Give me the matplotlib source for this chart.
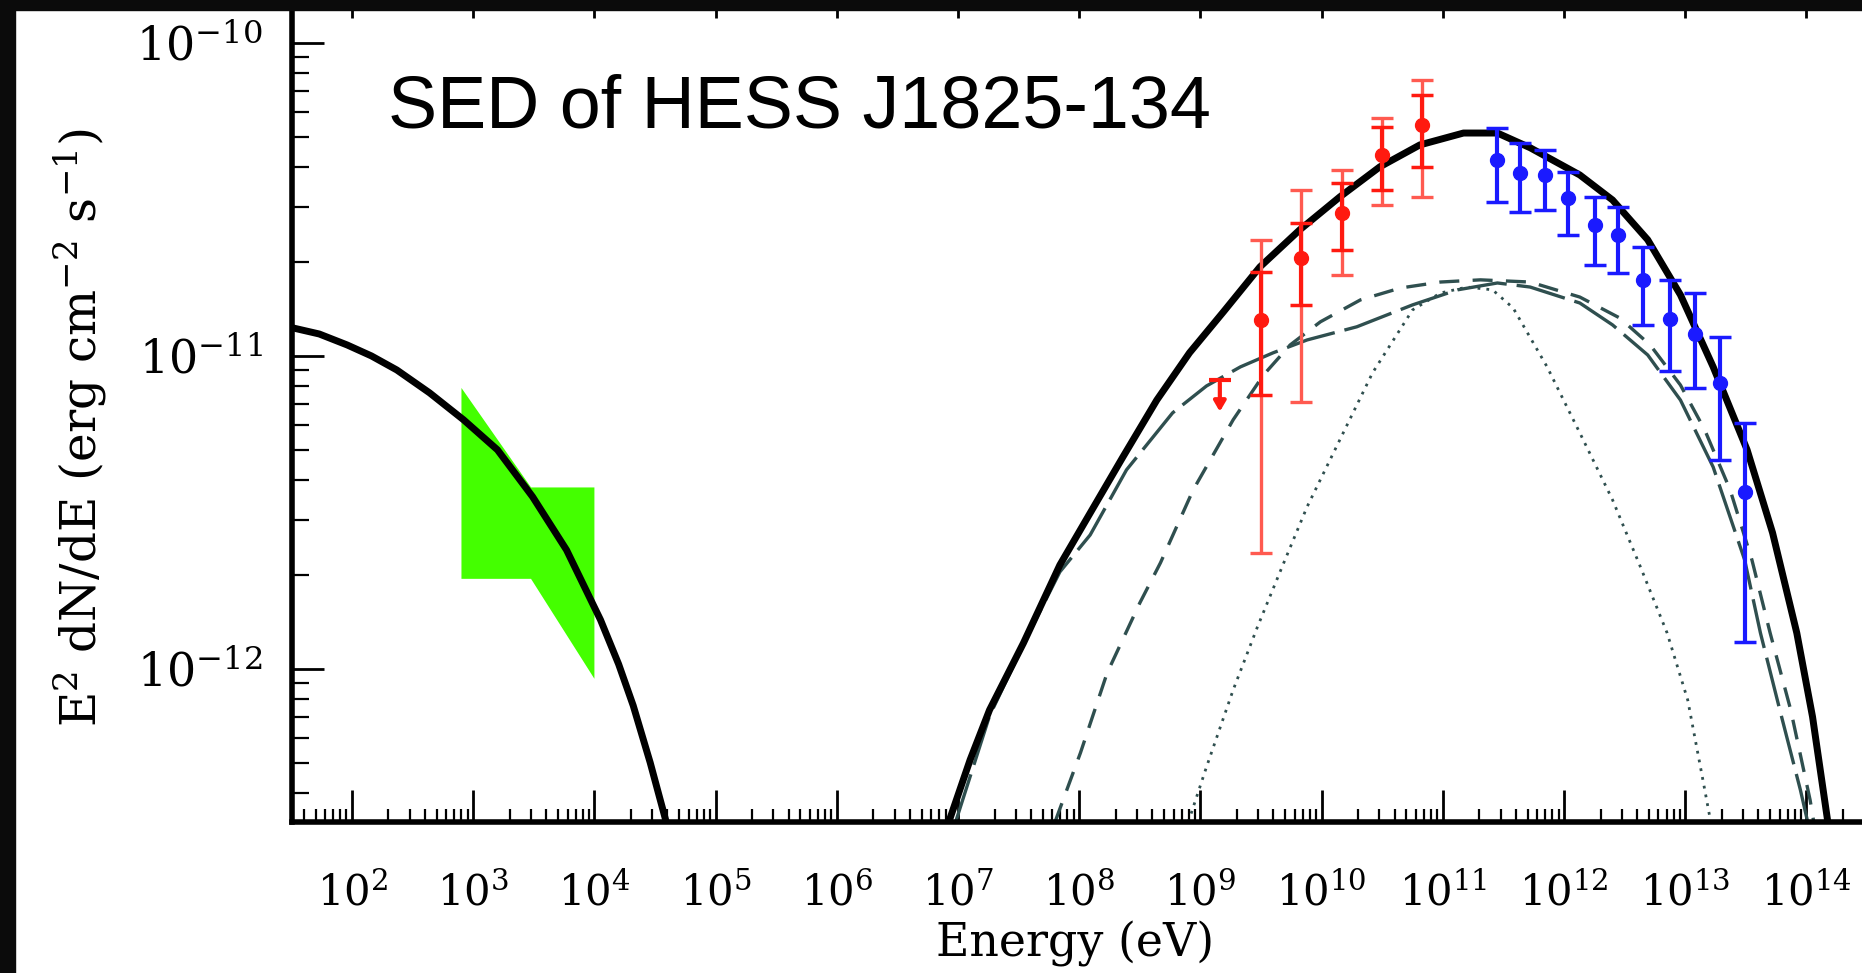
import numpy as np
import matplotlib
matplotlib.use("Agg")
import matplotlib.pyplot as plt
from matplotlib.patches import Rectangle
from matplotlib.ticker import LogLocator, NullFormatter

plt.rcParams['font.family'] = 'DejaVu Serif'
plt.rcParams['mathtext.fontset'] = 'dejavuserif'
plt.rcParams['savefig.bbox'] = 'standard'

#############################################
# model curves, log10(E/eV) vs log10(E^2 dN/dE)
sync_logE = [1.45, 1.73, 1.96, 2.16, 2.37, 2.64, 2.92, 3.20, 3.49, 3.77, 4.05, 4.20, 4.32, 4.46, 4.60]
sync_logF = [-10.905, -10.93, -10.965, -11.00, -11.045, -11.118, -11.204, -11.30, -11.45, -11.62,
             -11.843, -11.985, -12.117, -12.299, -12.50]

ic_logE = [6.93, 7.10, 7.26, 7.54, 7.84, 8.09, 8.36, 8.64, 8.91, 9.19, 9.49, 9.82, 10.15, 10.48, 10.81,
           11.17, 11.45, 11.72, 12.13, 12.40, 12.69, 12.96, 13.23, 13.51, 13.72, 13.92, 14.05, 14.17]
ic_logF = [-12.482, -12.29, -12.131, -11.917, -11.668, -11.502, -11.323, -11.141, -10.990, -10.859,
           -10.716, -10.597, -10.492, -10.396, -10.326, -10.288, -10.288, -10.335, -10.422, -10.502,
           -10.629, -10.805, -11.035, -11.300, -11.565, -11.885, -12.153, -12.473]

cmb_logE = [7.80, 8.01, 8.23, 8.50, 8.67, 8.94, 9.27, 9.52, 9.74, 9.99, 10.32, 10.65, 10.98, 11.31,
            11.72, 12.13, 12.46, 12.71, 12.96, 13.16, 13.37, 13.55, 13.70, 13.87, 14.03, 14.06]
cmb_logF = [-12.489, -12.268, -12.013, -11.789, -11.661, -11.428, -11.204, -11.061, -10.965, -10.891,
            -10.821, -10.783, -10.764, -10.757, -10.764, -10.812, -10.879, -10.965, -11.093, -11.236,
            -11.428, -11.652, -11.885, -12.131, -12.419, -12.489]

ir_logE = [6.98, 7.26, 7.59, 7.84, 8.09, 8.39, 8.77, 9.05, 9.33, 9.60, 9.88, 10.29, 10.75, 11.12,
           11.45, 11.72, 12.13, 12.40, 12.69, 12.96, 13.23, 13.49, 13.62, 13.78, 13.95, 14.01]
ir_logF = [-12.489, -12.150, -11.882, -11.690, -11.572, -11.364, -11.182, -11.096, -11.035, -10.990,
           -10.949, -10.907, -10.837, -10.789, -10.767, -10.780, -10.831, -10.901, -10.997, -11.141,
           -11.355, -11.652, -11.885, -12.131, -12.387, -12.489]

opt_logE = [8.90, 9.05, 9.27, 9.47, 9.68, 9.88, 10.15, 10.42, 10.75, 10.98, 11.20, 11.41, 11.58,
            11.86, 12.13, 12.40, 12.63, 12.85, 13.02, 13.15, 13.21]
opt_logF = [-12.489, -12.313, -12.067, -11.866, -11.668, -11.482, -11.268, -11.054, -10.853, -10.799,
            -10.780, -10.789, -10.847, -11.035, -11.246, -11.460, -11.674, -11.885, -12.099, -12.364,
            -12.489]

# X-ray butterfly (eV, erg cm-2 s-1)
xray_E = [8e2, 3e3, 1e4, 1e4, 3e3, 8e2]
xray_F = [7.9e-12, 3.8e-12, 3.8e-12, 9.3e-13, 1.94e-12, 1.94e-12]

# Fermi-LAT points: value, stat and total errors (log10)
lat_logE = [9.50, 9.83, 10.17, 10.50, 10.83]
lat_logF = [-10.885, -10.687, -10.543, -10.358, -10.262]
lat_stat_lo = [-11.125, -10.837, -10.661, -10.470, -10.396]
lat_stat_hi = [-10.732, -10.575, -10.447, -10.268, -10.166]
lat_sys_lo = [-11.629, -11.147, -10.741, -10.518, -10.492]
lat_sys_hi = [-10.629, -10.470, -10.406, -10.240, -10.118]
ul_logE = 9.16
ul_logF = -11.077

# H.E.S.S. points (log10)
hess_logE = [11.447, 11.637, 11.843, 12.033, 12.256, 12.446, 12.652, 12.875, 13.081, 13.287, 13.493]
hess_logF = [-10.374, -10.415, -10.422, -10.495, -10.581, -10.613, -10.757, -10.882, -10.930, -11.086, -11.435]
hess_hi = [-10.272, -10.320, -10.342, -10.412, -10.492, -10.524, -10.652, -10.757, -10.799, -10.939, -11.214]
hess_lo = [-10.508, -10.540, -10.534, -10.613, -10.709, -10.735, -10.901, -11.048, -11.102, -11.332, -11.914]


def p10(a):
    return 10.0 ** np.asarray(a)


def yerr(f, lo, hi):
    f = p10(f)
    return [f - p10(lo), p10(hi) - f]


#############################################
W, H = 1862, 973
fig = plt.figure(figsize=(W / 100, H / 100), dpi=100, facecolor='white')
# axes run to the right and top edges of the canvas
ax = fig.add_axes([292 / W, 1 - 822 / H, 1 - 292 / W, 822 / H])

ax.set_xscale('log')
ax.set_yscale('log')
ax.set_xlim(10 ** 1.505, 10 ** 14.458)
ax.set_ylim(10 ** -12.489, 10 ** -9.863)

slate = '#2f4f4f'
ax.fill(xray_E, xray_F, color='#44ff00', lw=0, zorder=1)
ax.plot(p10(sync_logE), p10(sync_logF), color='k', lw=5, zorder=3)
ax.plot(p10(ic_logE), p10(ic_logF), color='k', lw=5, zorder=3)
ax.plot(p10(cmb_logE), p10(cmb_logF), color=slate, lw=2.4, dashes=(6, 4), zorder=2)
ax.plot(p10(ir_logE), p10(ir_logF), color=slate, lw=2.4, dashes=(15, 3), zorder=2)
ax.plot(p10(opt_logE), p10(opt_logF), color=slate, lw=2.0, dashes=(1, 2.2), zorder=2)

# Fermi-LAT: total errors lighter, statistical on top
ax.errorbar(p10(lat_logE), p10(lat_logF), yerr=yerr(lat_logF, lat_sys_lo, lat_sys_hi),
            fmt='none', ecolor='#ff5a50', elinewidth=2.4, capsize=8, capthick=2.4, zorder=4)
ax.errorbar(p10(lat_logE), p10(lat_logF), yerr=yerr(lat_logF, lat_stat_lo, lat_stat_hi),
            fmt='o', color='#ff1a10', ms=10, elinewidth=3, capsize=8, capthick=2.5, zorder=5)
ax.plot(p10(ul_logE), p10(ul_logF), marker='_', ms=16, mew=3, color='#ff1a10', zorder=5)
ax.annotate('', xy=(p10(ul_logE), p10(ul_logF - 0.11)), xytext=(p10(ul_logE), p10(ul_logF)),
            arrowprops=dict(arrowstyle='-|>,head_width=0.35,head_length=0.6', color='#ff1a10', lw=3),
            zorder=5)

ax.errorbar(p10(hess_logE), p10(hess_logF), yerr=yerr(hess_logF, hess_lo, hess_hi),
            fmt='o', color='#1a1aff', ms=10, elinewidth=3, capsize=8, capthick=2.5, zorder=5)

# axes styling
for s in ax.spines.values():
    s.set_linewidth(4)
ax.spines['right'].set_visible(False)
ax.xaxis.set_major_locator(LogLocator(base=10, numticks=40))
ax.xaxis.set_minor_locator(LogLocator(base=10, subs=np.arange(2, 10), numticks=400))
ax.xaxis.set_minor_formatter(NullFormatter())
ax.yaxis.set_minor_locator(LogLocator(base=10, subs=np.arange(2, 10), numticks=400))
ax.yaxis.set_minor_formatter(NullFormatter())
ax.tick_params(which='both', direction='in', top=False, right=False, color='k')
ax.tick_params(which='major', length=23, width=2)
ax.tick_params(axis='x', which='minor', length=9.5, width=1.6)
ax.tick_params(axis='y', which='minor', length=12, width=1.6)
ax.tick_params(axis='x', which='major', labelsize=30, pad=36)
ax.tick_params(axis='y', which='major', labelsize=33, pad=21)

# short decade marks hanging from the top edge
top = ax.secondary_xaxis('top')
top.xaxis.set_major_locator(LogLocator(base=10, numticks=40))
top.xaxis.set_minor_locator(LogLocator(base=10, subs=np.arange(2, 10), numticks=400))
top.tick_params(which='major', direction='in', length=13, width=2, labeltop=False)
top.tick_params(which='minor', direction='in', length=0)

fig.text(80 / W, 1 - 428 / H, r'E$^2$ dN/dE (erg cm$^{-2}$ s$^{-1}$)', rotation=90,
         ha='center', va='center', fontsize=35)
fig.text(1075 / W, 1 - 944 / H, 'Energy (eV)', ha='center', va='center', fontsize=33)
fig.text(388 / W, 1 - 127 / H, 'SED of HESS J1825-134', family='Liberation Sans',
         fontsize=53, ha='left', va='baseline')

# dark frame strips along the left and top edges
frame = '#0b0b0b'
fig.add_artist(Rectangle((0, 0), 15 / W, 1, transform=fig.transFigure, color=frame, zorder=10))
fig.add_artist(Rectangle((0, 1 - 10 / H), 1, 10 / H, transform=fig.transFigure, color=frame, zorder=10))

fig.savefig('out.png', dpi=100)
